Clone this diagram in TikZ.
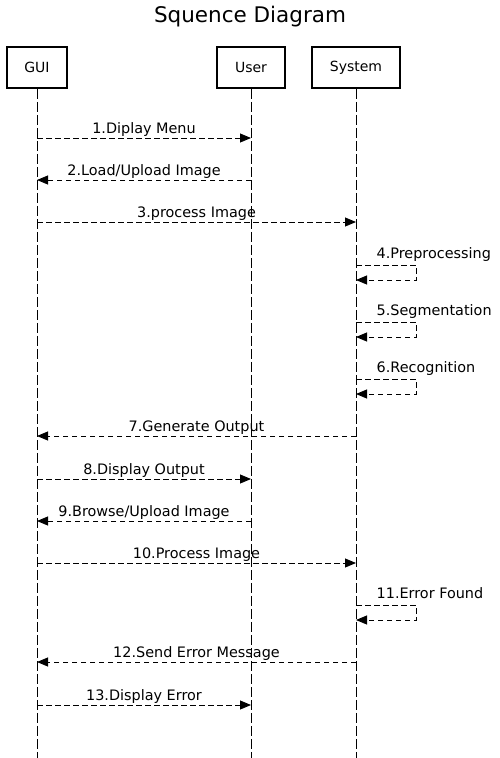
\documentclass[tikz,border=0pt]{standalone}
\usepackage{fontspec}
\setmainfont{DejaVu Sans}
\usetikzlibrary{arrows.meta}
\usetikzlibrary{positioning}

\tikzset{
  actor/.style={rectangle,draw,line width=1.8pt,minimum height=41pt,font=\fontsize{14}{16}\selectfont},
  lifeline/.style={dash pattern=on 10pt off 3pt,line width=0.9pt},
  msg/.style={dash pattern=on 5.5pt off 3.5pt,line width=0.9pt,-{Triangle[length=11pt,width=9pt]}},
  msglabel/.style={anchor=base,yshift=4.5pt,inner sep=0pt,font=\fontsize{14.4}{16}\selectfont}
}

\begin{document}
\begin{tikzpicture}[x=1pt,y=-1pt]
        \useasboundingbox (0,0) rectangle (499,758);
        \node at (250,16.5) (title) {\fontsize{21.5}{24}\selectfont Squence Diagram};

        \node at (37,67.5) [actor,minimum width=60pt] (gui) {GUI};
        \node at (251,67.5) [actor,minimum width=68pt] (user) {User};
        \node at (356,67.5) [actor,minimum width=88pt] (system) {System};

        \foreach \n in {gui,user,system}
          \draw[lifeline] (\n.south) -- (\n |- 0,758);

        \draw[msg] (gui |- 0,138)    -- (user |- 0,138) node [midway, msglabel] {1.Diplay Menu};
        \draw[msg] (user |- 0,180)   -- (gui |- 0,180) node [midway, msglabel] {2.Load/Upload Image};
        \draw[msg] (gui |- 0,222)    -- (system |- 0,222) node [midway, msglabel] {3.process Image};

        \draw[msg] (system |- 0,265) -- ++(60,0) -- ++(0,15) -- (system |- 0,280);
        \node [msglabel,anchor=base west,yshift=0pt] at (376.5,263) (pre) {4.Preprocessing};
        \draw[msg] (system |- 0,322) -- ++(60,0) -- ++(0,15) -- (system |- 0,337);
        \node [msglabel,anchor=base west,yshift=0pt] at (376.5,320) (seg) {5.Segmentation};
        \draw[msg] (system |- 0,379) -- ++(60,0) -- ++(0,15) -- (system |- 0,394);
        \node [msglabel,anchor=base west,yshift=0pt] at (376.5,377) (rec) {6.Recognition};

        \draw[msg] (system |- 0,436) -- (gui |- 0,436) node [midway, msglabel] {7.Generate Output};
        \draw[msg] (gui |- 0,479)    -- (user |- 0,479) node [midway, msglabel] {8.Display Output};
        \draw[msg] (user |- 0,521)   -- (gui |- 0,521) node [midway, msglabel] {9.Browse/Upload Image};
        \draw[msg] (gui |- 0,563)    -- (system |- 0,563) node [midway, msglabel] {10.Process Image};

        \draw[msg] (system |- 0,605) -- ++(60,0) -- ++(0,15) -- (system |- 0,620);
        \node [msglabel,anchor=base west,yshift=0pt] at (376.5,603) (err) {11.Error Found};

        \draw[msg] (system |- 0,662) -- (gui |- 0,662) node [midway, msglabel] {12.Send Error Message};
        \draw[msg] (gui |- 0,705)    -- (user |- 0,705) node [midway, msglabel] {13.Display Error};
    \end{tikzpicture}
\end{document}
